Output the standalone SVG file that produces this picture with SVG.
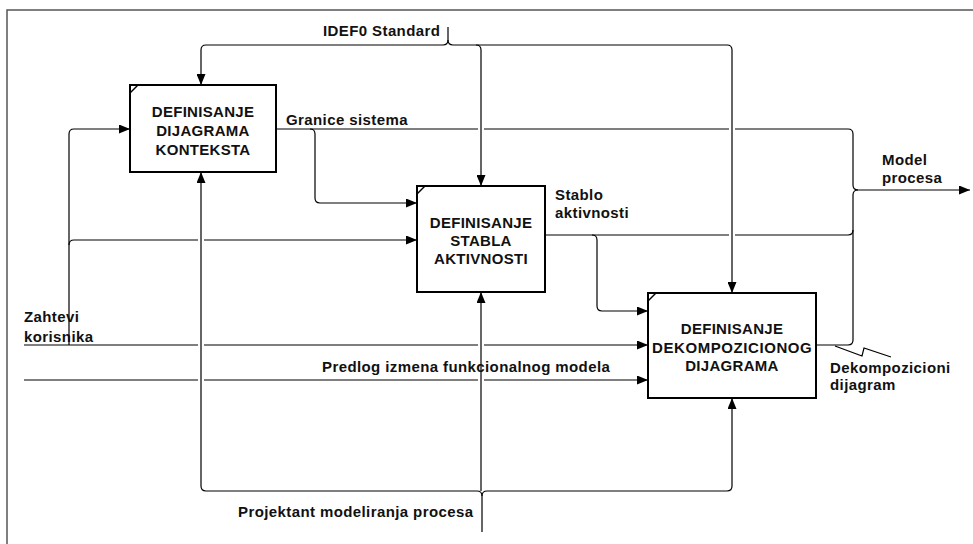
<svg xmlns="http://www.w3.org/2000/svg" width="973" height="544" viewBox="0 0 973 544">
  <style>
    .frame { fill: none; stroke: #555; stroke-width: 1.5; }
    .box { fill: #fff; stroke: #000; stroke-width: 2; }
    .tick { fill: none; stroke: #000; stroke-width: 1.5; }
    .box-text { font-family: "Liberation Sans", Arial, sans-serif; font-weight: bold; font-size: 15px; text-anchor: middle; fill: #111; letter-spacing: 0.3px; }
    .label { font-family: "Liberation Sans", Arial, sans-serif; font-weight: bold; font-size: 15px; fill: #111; letter-spacing: 0.4px; }
    .arrow { fill: none; stroke: #000; stroke-width: 1.2; }
    .arrow-end { fill: none; stroke: #000; stroke-width: 1.2; marker-end: url(#head); }
  </style>
  <defs>
    <marker id="head" markerUnits="userSpaceOnUse" markerWidth="11" markerHeight="9" refX="11" refY="4.5" orient="auto">
      <path d="M0,0 L11,4.5 L0,9 Z" fill="#000"/>
    </marker>
  </defs>

  <rect width="973" height="544" fill="#fff"/>
  <!-- page frame -->
  <path class="frame" d="M7,544 V10 H973"/>

  <!-- connectors -->
  <g id="connectors">
    <!-- IDEF0 Standard (control) -->
    <path class="arrow" d="M448,27 V40 Q448,45 443,45"/>
    <path class="arrow" d="M448,40 Q448,45 453,45"/>
    <path class="arrow-end" d="M443,45 H206 Q201,45 201,50 V85"/>
    <path class="arrow-end" d="M453,45 H476 Q481,45 481,50 V186"/>
    <path class="arrow-end" d="M476,45 H727 Q732,45 732,50 V293"/>

    <!-- Granice sistema (output of box 1) -->
    <path class="arrow" d="M276,129 H478"/>
    <path class="arrow" d="M484,129 H729"/>
    <path class="arrow" d="M735,129 H848 Q853,129 853,134 V185 Q853,190 858,190"/>
    <path class="arrow-end" d="M310,129 Q315,129 315,134 V198 Q315,203 320,203 H417"/>

    <!-- Model procesa (final output) -->
    <path class="arrow-end" d="M858,190 H970"/>

    <!-- Stablo aktivnosti (output of box 2) -->
    <path class="arrow" d="M546,235 H592"/>
    <path class="arrow-end" d="M592,235 Q597,235 597,240 V306 Q597,311 602,311 H648"/>
    <path class="arrow" d="M592,235 Q597,235 602,235 H729"/>
    <path class="arrow" d="M735,235 H848 Q853,235 853,230"/>

    <!-- Dekompozicioni dijagram (output of box 3) -->
    <path class="arrow" d="M816,345 H848 Q853,345 853,340 V195 Q853,190 858,190"/>
    <polyline class="arrow" points="835,346 862,356 864,348 891,357"/>

    <!-- Zahtevi korisnika (input) -->
    <path class="arrow" d="M24,345 H198"/>
    <path class="arrow" d="M204,345 H478"/>
    <path class="arrow-end" d="M484,345 H648"/>
    <path class="arrow-end" d="M69,345 V134 Q69,129 74,129 H130"/>
    <path class="arrow" d="M69,245 Q69,240 74,240 H198"/>
    <path class="arrow-end" d="M204,240 H417"/>

    <!-- Predlog izmena funkcionalnog modela (input) -->
    <path class="arrow" d="M24,380 H198"/>
    <path class="arrow" d="M204,380 H478"/>
    <path class="arrow-end" d="M484,380 H648"/>

    <!-- Projektant modeliranja procesa (mechanism) -->
    <path class="arrow" d="M482,532 V496 Q482,491 477,491"/>
    <path class="arrow" d="M482,496 Q482,491 487,491"/>
    <path class="arrow-end" d="M477,491 H206 Q201,491 201,486 V172"/>
    <path class="arrow-end" d="M487,491 H727 Q732,491 732,486 V398"/>
    <path class="arrow-end" d="M481,491 V292"/>
  </g>

  <!-- activity boxes -->
  <g id="box-a1">
    <rect class="box" x="130" y="85" width="146" height="87"/>
    <path class="tick" d="M130,93 L138,85"/>
    <text class="box-text" x="203" y="117">DEFINISANJE</text>
    <text class="box-text" x="203" y="136">DIJAGRAMA</text>
    <text class="box-text" x="203" y="155">KONTEKSTA</text>
  </g>
  <g id="box-a2">
    <rect class="box" x="417" y="186" width="128" height="106"/>
    <path class="tick" d="M417,194 L425,186"/>
    <text class="box-text" x="481" y="228">DEFINISANJE</text>
    <text class="box-text" x="481" y="246">STABLA</text>
    <text class="box-text" x="481" y="264">AKTIVNOSTI</text>
  </g>
  <g id="box-a3">
    <rect class="box" x="648" y="293" width="168" height="105"/>
    <path class="tick" d="M648,301 L656,293"/>
    <text class="box-text" x="732" y="334">DEFINISANJE</text>
    <text class="box-text" x="732" y="353" textLength="160" lengthAdjust="spacing">DEKOMPOZICIONOG</text>
    <text class="box-text" x="732" y="371">DIJAGRAMA</text>
  </g>

  <!-- arrow labels -->
  <g id="labels">
    <text class="label" x="323" y="36">IDEF0 Standard</text>
    <text class="label" x="286" y="125">Granice sistema</text>
    <text class="label" x="555" y="200">Stablo</text>
    <text class="label" x="555" y="218">aktivnosti</text>
    <text class="label" x="882" y="165">Model</text>
    <text class="label" x="882" y="183">procesa</text>
    <text class="label" x="24" y="322">Zahtevi</text>
    <text class="label" x="24" y="342">korisnika</text>
    <text class="label" x="322" y="372">Predlog izmena funkcionalnog modela</text>
    <text class="label" x="830" y="373">Dekompozicioni</text>
    <text class="label" x="830" y="390">dijagram</text>
    <text class="label" x="238" y="517">Projektant modeliranja procesa</text>
  </g>
</svg>
